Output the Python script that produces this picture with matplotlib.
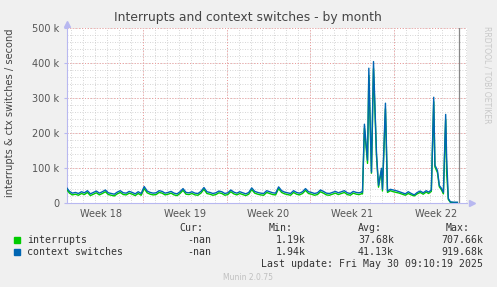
import numpy as np
import matplotlib.pyplot as plt

# ---------------------------
# data (x in days from the left edge of the graph)
# ---------------------------
base_days = np.arange(0, 25, 0.25)
base_ctx = [45, 34, 29, 31, 28, 33, 30, 36, 27, 31, 35, 29, 33, 38, 30, 28,
            26, 32, 36, 30, 29, 34, 31, 27, 33, 28, 48, 35, 31, 29, 30, 36,
            34, 29, 31, 34, 29, 27, 33, 42, 31, 30, 33, 29, 28, 34, 45, 33,
            31, 28, 30, 35, 33, 28, 30, 38, 32, 29, 33, 30, 27, 31, 44, 34,
            31, 29, 28, 36, 33, 30, 29, 47, 36, 32, 30, 28, 36, 31, 29, 33,
            42, 33, 31, 28, 30, 38, 34, 29, 28, 31, 34, 30, 33, 36, 30, 28,
            34, 31, 30, 33]
base_irq = [40, 29, 24, 26, 23, 28, 25, 31, 22, 26, 30, 24, 28, 33, 25, 23,
            21, 27, 31, 25, 24, 29, 26, 22, 28, 23, 42, 30, 26, 24, 25, 31,
            29, 24, 26, 29, 24, 22, 28, 37, 26, 25, 28, 24, 23, 29, 40, 28,
            26, 23, 25, 30, 28, 23, 25, 33, 27, 24, 28, 25, 22, 26, 39, 29,
            26, 24, 23, 31, 28, 25, 24, 42, 31, 27, 25, 23, 31, 26, 24, 28,
            37, 28, 26, 23, 25, 33, 29, 24, 23, 26, 29, 25, 28, 31, 25, 23,
            29, 26, 25, 28]

burst_days = [24.77, 24.93, 25.19, 25.30, 25.52, 25.69, 25.94, 26.11, 26.36,
              26.44, 26.69, 26.86, 27.1, 27.35, 27.6, 27.85, 28.1, 28.35, 28.6,
              28.85, 29.1, 29.35, 29.6, 29.85, 30.1, 30.3, 30.53, 30.73, 30.83,
              31.04, 31.20, 31.37, 31.54, 31.73, 31.81, 31.95, 32.12, 32.4, 32.71]
burst_ctx = [32, 226, 123, 386, 89, 405, 143, 51, 100,
             40, 286, 35, 40, 38, 36, 33, 30, 27, 33,
             28, 24, 31, 35, 30, 36, 32, 38, 303, 109,
             94, 51, 43, 31, 254, 131, 14, 4, 3, 3]
burst_irq = [27, 215, 114, 365, 86, 385, 135, 46, 95,
             35, 270, 31, 36, 33, 31, 29, 26, 23, 28,
             24, 21, 27, 31, 26, 32, 28, 34, 290, 104,
             88, 47, 39, 27, 240, 89, 11, 3, 2, 2]

days = np.concatenate([base_days, burst_days])
ctx = np.array(base_ctx + burst_ctx) * 1000.0
irq = np.array(base_irq + burst_irq) * 1000.0

last_spike_day = 32.85

week_starts = [6.4, 13.4, 20.4, 27.4]
week_labels = ["Week 18", "Week 19", "Week 20", "Week 21", "Week 22"]
y_ticks = [0, 100e3, 200e3, 300e3, 400e3, 500e3]
y_tick_labels = ["0", "100 k", "200 k", "300 k", "400 k", "500 k"]

legend_names = ["interrupts", "context switches"]
legend_colors = ["#00cc00", "#0066b3"]
cur_vals = ["-nan", "-nan"]
min_vals = ["1.19k", "1.94k"]
avg_vals = ["37.68k", "41.13k"]
max_vals = ["707.66k", "919.68k"]

# ---------------------------
# figure
# ---------------------------
W, H = 497, 287
fig = plt.figure(figsize=(W / 100, H / 100), dpi=100, facecolor="#f0f0f0")


def fx(px):
    return px / W


def fy(py):
    return 1 - py / H


left, right, top, bottom = 66.5, 467.5, 28.3, 203.3
ax = fig.add_axes([fx(left), fy(bottom), fx(right - left), (bottom - top) / H])
ax.set_facecolor("white")

x_max = (right - left) / 11.95
ax.set_xlim(0, x_max)
ax.set_ylim(0, 500e3)

# grid
grid_ls = (0, (1, 2))
for d in np.arange(0.4, x_max, 1.0):
    ax.axvline(d, color="#c8c8c8", lw=0.6, ls=grid_ls, zorder=0)
for v in np.arange(20e3, 500e3 + 1, 20e3):
    ax.axhline(v, color="#c8c8c8", lw=0.6, ls=grid_ls, zorder=0)
for d in week_starts:
    ax.axvline(d, color="#ee9999", lw=0.7, ls=grid_ls, zorder=1)
for v in y_ticks[1:]:
    ax.axhline(v, color="#ee9999", lw=0.7, ls=grid_ls, zorder=1)

# series
ax.plot(days, irq, color=legend_colors[0], lw=1.0, zorder=3)
ax.plot(days, ctx, color=legend_colors[1], lw=1.0, zorder=4)
ax.axvline(last_spike_day, color="#888888", lw=0.9, zorder=5)

# axes look
for s in ["top", "right"]:
    ax.spines[s].set_visible(False)
for s in ["left", "bottom"]:
    ax.spines[s].set_color("#b8b8f0")
    ax.spines[s].set_linewidth(0.8)
ax.plot([0], [1.025], marker="^", color="#b8b8f0", ms=4, transform=ax.transAxes, clip_on=False)
ax.plot([1.01], [0], marker=">", color="#b8b8f0", ms=4, transform=ax.transAxes, clip_on=False)

ax.set_yticks(y_ticks)
ax.set_yticklabels(y_tick_labels)
label_pos = [week_starts[0] - 3.5] + [w + 3.5 for w in week_starts]
ax.set_xticks(label_pos)
ax.set_xticklabels(week_labels)
ax.tick_params(axis="y", length=2, color="#b8b8f0", labelsize=7, labelcolor="#555555", pad=3)
ax.tick_params(axis="x", length=0, labelsize=7, labelcolor="#555555", pad=4)

# texts
fig.text(fx(248), fy(17), "Interrupts and context switches - by month",
         ha="center", va="center", fontsize=8.9, color="#444444")
fig.text(fx(10), fy(113), "interrupts & ctx switches / second", rotation=90,
         ha="center", va="center", fontsize=7.1, color="#444444")
fig.text(fx(487), fy(26), "RRDTOOL / TOBI OETIKER", rotation=270,
         ha="center", va="top", fontsize=5.5, color="#c8c8c8")

mono = "DejaVu Sans Mono"
fs = 7.1
tc = "#333333"
fig.text(fx(203), fy(228), "Cur:", ha="right", va="center", family=mono, fontsize=fs, color=tc)
fig.text(fx(293), fy(228), "Min:", ha="right", va="center", family=mono, fontsize=fs, color=tc)
fig.text(fx(382), fy(228), "Avg:", ha="right", va="center", family=mono, fontsize=fs, color=tc)
fig.text(fx(470), fy(228), "Max:", ha="right", va="center", family=mono, fontsize=fs, color=tc)

for i, name in enumerate(legend_names):
    yy = 240 + i * 12
    fig.patches.append(plt.Rectangle((fx(14), fy(yy + 3)), 6 / W, 6 / H,
                                     transform=fig.transFigure, color=legend_colors[i]))
    fig.text(fx(27), fy(yy), name, ha="left", va="center", family=mono, fontsize=fs, color=tc)
    fig.text(fx(211), fy(yy), cur_vals[i], ha="right", va="center", family=mono, fontsize=fs, color=tc)
    fig.text(fx(306), fy(yy), min_vals[i], ha="right", va="center", family=mono, fontsize=fs, color=tc)
    fig.text(fx(394), fy(yy), avg_vals[i], ha="right", va="center", family=mono, fontsize=fs, color=tc)
    fig.text(fx(483), fy(yy), max_vals[i], ha="right", va="center", family=mono, fontsize=fs, color=tc)

fig.text(fx(483), fy(264), "Last update: Fri May 30 09:10:19 2025", ha="right", va="center",
         family=mono, fontsize=fs, color=tc)
fig.text(fx(248), fy(277), "Munin 2.0.75", ha="center", va="center", fontsize=5.5, color="#c0c0c0")

fig.savefig("out.png", dpi=100, facecolor=fig.get_facecolor())
